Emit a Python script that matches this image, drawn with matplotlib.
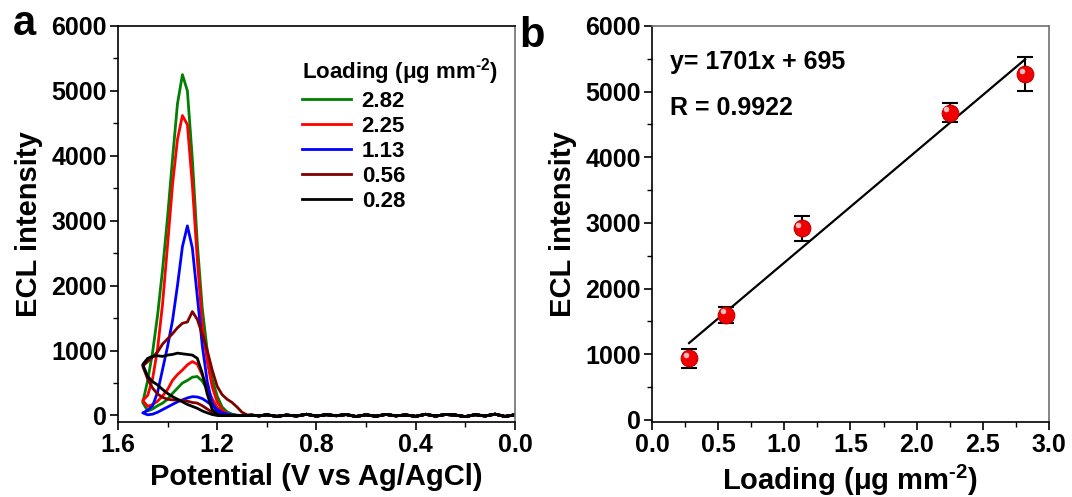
import matplotlib
matplotlib.use("Agg")
import matplotlib.pyplot as plt
from matplotlib.ticker import MultipleLocator
from matplotlib.transforms import offset_copy

plt.rcParams["font.family"] = ["Liberation Sans", "DejaVu Sans"]
plt.rcParams["font.weight"] = "bold"
plt.rcParams["axes.labelweight"] = "bold"
plt.rcParams["mathtext.fontset"] = "custom"
plt.rcParams["mathtext.bf"] = "Liberation Sans:bold"
plt.rcParams["mathtext.rm"] = "Liberation Sans:bold"
plt.rcParams["mathtext.default"] = "bf"

# --- panel a: ECL-potential scans ---
# potentials (V) where the emission is read, high to low
pot_grid = [1.50, 1.48, 1.46, 1.44, 1.42, 1.40, 1.38, 1.36, 1.34, 1.32, 1.30,
            1.28, 1.26, 1.24, 1.22, 1.20, 1.18, 1.16, 1.14, 1.12, 1.10, 1.08]

# main emission peak (one scan direction)
peak_282 = [200, 540, 980, 1550, 2250, 3050, 3950, 4800, 5250, 5000, 3950,
            2650, 1650, 1000, 560, 300, 130, 55, 20, 5, 0, 0]
peak_225 = [230, 310, 570, 1030, 1720, 2620, 3550, 4250, 4620, 4480, 3550,
            2400, 1400, 830, 440, 210, 85, 25, 5, 0, 0, 0]
peak_113 = [40, 80, 150, 360, 710, 1060, 1460, 2000, 2600, 2920, 2580,
            1830, 1080, 520, 190, 65, 15, 0, 0, 0, 0, 0]
peak_056 = [760, 830, 900, 980, 1100, 1180, 1260, 1350, 1420, 1440, 1600,
            1480, 1250, 1000, 700, 450, 320, 250, 200, 130, 50, 10]
peak_028 = [785, 880, 910, 920, 910, 930, 940, 960, 950, 940, 930,
            880, 650, 330, 90, 15, 0, 0, 0, 0, 0, 0]

# weaker emission on the return scan
hump_282 = [200, 70, 100, 150, 190, 250, 340, 420, 500, 540, 590,
            600, 530, 400, 250, 120, 50, 15, 5, 0, 0, 0]
hump_225 = [230, 140, 170, 220, 300, 400, 540, 630, 700, 780, 830,
            790, 620, 430, 250, 110, 40, 10, 0, 0, 0, 0]
hump_113 = [40, 10, 20, 50, 90, 130, 170, 210, 240, 270, 290,
            285, 260, 210, 150, 90, 45, 20, 10, 0, 0, 0]
hump_056 = [760, 560, 420, 330, 280, 250, 240, 240, 230, 220, 200,
            190, 150, 100, 50, 20, 5, 0, 0, 0, 0, 0]
hump_028 = [785, 600, 520, 470, 400, 340, 290, 250, 210, 170, 140,
            110, 70, 40, 15, 0, 0, 0, 0, 0, 0, 0]

# background signal between 0 and 1.06 V
base_pot = [0.00, 0.04, 0.08, 0.12, 0.16, 0.20, 0.24, 0.28, 0.32, 0.36, 0.40,
            0.44, 0.48, 0.52, 0.56, 0.60, 0.64, 0.68, 0.72, 0.76, 0.80, 0.84,
            0.88, 0.92, 0.96, 1.00, 1.03, 1.06]
base_ecl = [10, -15, 20, -8, 12, -18, 6, 15, -10, 18, -14, 8, -6, 16, -12,
            10, -16, 14, -4, 12, -10, 18, -8, 6, -14, 10, -6, 4]

loadings = ["2.82", "2.25", "1.13", "0.56", "0.28"]
colors = ["#008000", "#ff0000", "#0000ff", "#800000", "#000000"]
peaks = [peak_282, peak_225, peak_113, peak_056, peak_028]
humps = [hump_282, hump_225, hump_113, hump_056, hump_028]

# --- panel b: calibration ---
load = [0.28, 0.56, 1.13, 2.25, 2.82]
ecl = [940, 1600, 2920, 4675, 5265]
ecl_err = [145, 127, 188, 145, 261]
slope = 1701
intercept = 695

fig = plt.figure(figsize=(10.72, 4.97), dpi=100)
ax1 = fig.add_axes([0.110, 0.151, 0.3703, 0.7968])
ax2 = fig.add_axes([0.6082, 0.151, 0.3703, 0.7968])

for lab, c, pk, hp in zip(loadings, colors, peaks, humps):
    xs = base_pot + pot_grid[::-1] + pot_grid + base_pot[::-1]
    ys = base_ecl + pk[::-1] + hp + base_ecl[::-1]
    ax1.plot(xs, ys, color=c, lw=2, label=lab)

ax1.set_xlim(1.6, 0.0)
ax1.set_ylim(-100, 6000)
ax1.xaxis.set_major_locator(MultipleLocator(0.4))
ax1.xaxis.set_minor_locator(MultipleLocator(0.2))
ax1.yaxis.set_major_locator(MultipleLocator(1000))
ax1.yaxis.set_minor_locator(MultipleLocator(500))
ax1.set_xlabel("Potential (V vs Ag/AgCl)", fontsize=21, labelpad=4)
ax1.set_ylabel("ECL intensity", fontsize=21, labelpad=6)

leg = ax1.legend(title=r"Loading (μg mm$^{\text{-2}}$)", loc="upper left",
                 bbox_to_anchor=(0.463, 0.925), frameon=False, fontsize=16,
                 title_fontsize=16, handlelength=2.2, handletextpad=0.5,
                 labelspacing=0.18, borderpad=0, borderaxespad=0,
                 alignment="left")
for h in leg.get_lines():
    h.set_linewidth(2)
for t in leg.get_texts():
    t.set_fontweight("bold")
leg.get_title().set_fontweight("bold")

# fitted line over the measured range
fit_x = [load[0], load[-1]]
fit_y = [slope * v + intercept for v in fit_x]
ax2.plot(fit_x, fit_y, color="black", lw=1.6, zorder=2)
ax2.errorbar(load, ecl, yerr=ecl_err, fmt="none", ecolor="black",
             elinewidth=1.5, capsize=6, capthick=1.5, zorder=3)
ax2.plot(load, ecl, "o", ms=12, mfc="#f00000", mec="#c00000", mew=0.8,
         zorder=4)
shine = offset_copy(ax2.transData, fig=fig, x=-2.5, y=2.5, units="points")
ax2.plot(load, ecl, "o", ms=4, mfc="#ffd0d0", mec="none", alpha=0.9,
         transform=shine, zorder=5)

ax2.set_xlim(0, 3.0)
ax2.set_ylim(-30, 6000)
ax2.xaxis.set_major_locator(MultipleLocator(0.5))
ax2.xaxis.set_minor_locator(MultipleLocator(0.25))
ax2.yaxis.set_major_locator(MultipleLocator(1000))
ax2.yaxis.set_minor_locator(MultipleLocator(500))
ax2.set_xlabel(r"Loading (μg mm$^{\text{-2}}$)", fontsize=21, labelpad=4)
ax2.set_ylabel("ECL intensity", fontsize=21, labelpad=6)
ax2.text(0.045, 0.91, "y= %d" % slope + "x + %d" % intercept,
         transform=ax2.transAxes, fontsize=18, fontweight="bold",
         va="center", ha="left")
ax2.text(0.045, 0.793, "R = 0.9922", transform=ax2.transAxes, fontsize=18,
         fontweight="bold", va="center", ha="left")

for ax in (ax1, ax2):
    ax.tick_params(which="major", direction="out", length=6, width=1.2,
                   labelsize=18, pad=2)
    ax.tick_params(which="minor", direction="out", length=3.5, width=1.0)
    ax.tick_params(top=False, right=False, which="both")
    for lbl in ax.get_xticklabels() + ax.get_yticklabels():
        lbl.set_fontweight("bold")
    for s in ("left", "bottom"):
        ax.spines[s].set_linewidth(1.2)
    for s in ("top", "right"):
        ax.spines[s].set_color("#707070")
        ax.spines[s].set_linewidth(1.2)
ax1.spines["top"].set_color("black")

fig.text(0.012, 0.93, "a", fontsize=30, fontweight="bold")
fig.text(0.484, 0.905, "b", fontsize=30, fontweight="bold")

fig.savefig("out.png", dpi=100)
